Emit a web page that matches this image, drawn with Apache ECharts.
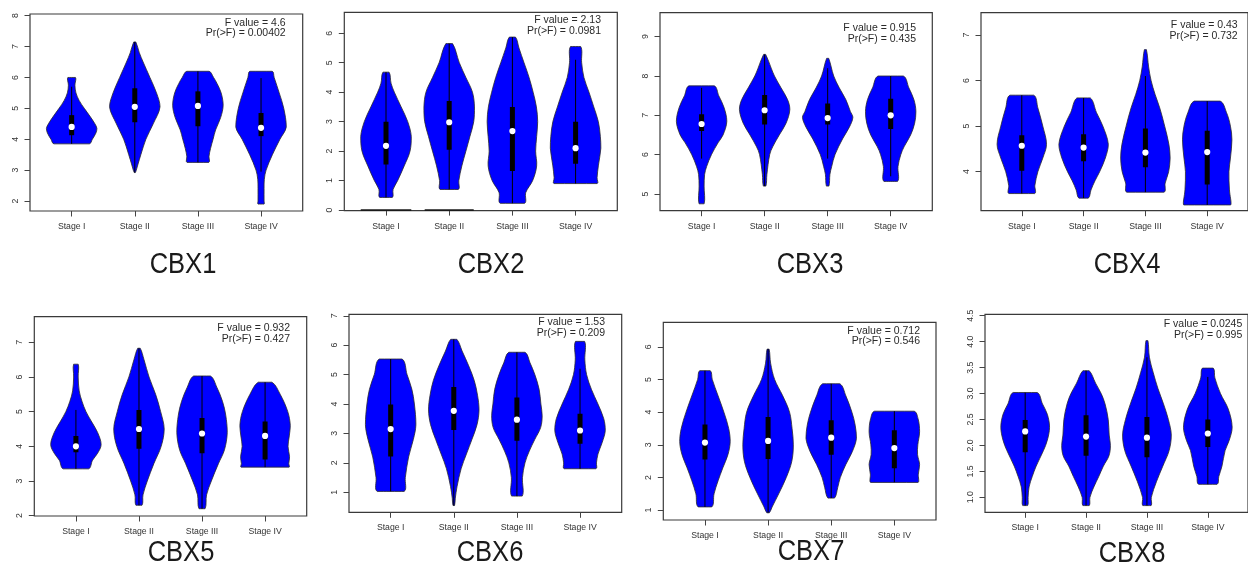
<!DOCTYPE html>
<html>
<head>
<meta charset="utf-8">
<script src="https://cdn.jsdelivr.net/npm/echarts@6/dist/echarts.min.js"></script>
<style>html,body{margin:0;padding:0;background:#fff}#c{width:1248px;height:569px}</style>
</head>
<body>
<div id="c"></div>
<script>
// ---------------- DATA ----------------
const stages = ['Stage I', 'Stage II', 'Stage III', 'Stage IV'];
const genes = ['CBX1', 'CBX2', 'CBX3', 'CBX4', 'CBX5', 'CBX6', 'CBX7', 'CBX8'];
const fValues = ['4.6', '2.13', '0.915', '0.43', '0.932', '1.53', '0.712', '0.0245'];
const prValues = ['0.00402', '0.0981', '0.435', '0.732', '0.427', '0.209', '0.546', '0.995'];

const yTicksCBX1 = [2, 3, 4, 5, 6, 7, 8];
const yTicksCBX2 = [0, 1, 2, 3, 4, 5, 6];
const yTicksCBX3 = [5, 6, 7, 8, 9];
const yTicksCBX4 = [4, 5, 6, 7];
const yTicksCBX5 = [2, 3, 4, 5, 6, 7];
const yTicksCBX6 = [1, 2, 3, 4, 5, 6, 7];
const yTicksCBX7 = [1, 2, 3, 4, 5, 6];
const yTicksCBX8 = [1.0, 1.5, 2.0, 2.5, 3.0, 3.5, 4.0, 4.5];

// box stats per stage: [whisker low, q1, median, q3, whisker high]
const boxCBX1 = [[3.85, 4.13, 4.40, 4.78, 5.7], [2.92, 4.55, 5.05, 5.65, 7.15], [3.25, 4.42, 5.08, 5.55, 6.2], [2.95, 4.1, 4.37, 4.85, 5.98]];
const boxCBX2 = [[0.43, 1.55, 2.18, 3.0, 4.68], [0.7, 2.05, 2.98, 3.7, 5.65], [0.23, 1.33, 2.68, 3.5, 5.87], [0.9, 1.57, 2.1, 3.0, 5.1]];
const boxCBX3 = [[5.9, 6.6, 6.78, 7.03, 7.7], [5.2, 6.77, 7.13, 7.52, 8.55], [5.9, 6.77, 6.93, 7.3, 8.2], [5.45, 6.65, 7.0, 7.42, 8.0]];
const boxCBX4 = [[3.52, 4.02, 4.57, 4.8, 5.68], [3.42, 4.23, 4.53, 4.82, 5.62], [3.55, 4.1, 4.42, 4.95, 6.1], [3.27, 3.72, 4.43, 4.9, 5.55]];
const boxCBX5 = [[3.35, 3.83, 4.0, 4.3, 5.05], [2.3, 3.93, 4.5, 5.05, 6.83], [2.2, 3.8, 4.37, 4.82, 6.03], [3.4, 3.62, 4.3, 4.72, 5.85]];
const boxCBX6 = [[1.03, 2.22, 3.15, 3.98, 5.53], [0.55, 3.12, 3.77, 4.58, 6.2], [0.87, 2.75, 3.47, 4.22, 5.76], [1.8, 2.65, 3.1, 3.67, 5.2]];
const boxCBX7 = [[1.1, 2.55, 3.07, 3.62, 5.27], [0.92, 2.57, 3.12, 3.85, 5.93], [1.37, 2.7, 3.22, 3.75, 4.87], [1.85, 2.28, 2.9, 3.45, 4.03]];
const boxCBX8 = [[0.84, 1.87, 2.27, 2.49, 3.02], [0.84, 1.8, 2.17, 2.58, 3.44], [0.84, 1.77, 2.15, 2.55, 3.7], [1.25, 1.97, 2.23, 2.5, 3.32]];

// violin outlines per stage: [value, relative half-width], top to bottom
const violinCBX1 = [
  [[6.0,0.15],[5.75,0.13],[5.5,0.17],[5.25,0.3],[5.0,0.5],[4.75,0.72],[4.5,0.92],[4.35,1.0],[4.2,0.96],[4.0,0.82],[3.85,0.7]],
  [[7.15,0.04],[6.8,0.18],[6.5,0.33],[6.0,0.6],[5.5,0.86],[5.05,1.0],[4.5,0.73],[4.0,0.44],[3.5,0.24],[3.2,0.13],[3.0,0.06],[2.92,0.02]],
  [[6.2,0.44],[6.0,0.62],[5.8,0.76],[5.5,0.92],[5.1,1.0],[4.7,0.9],[4.3,0.7],[4.0,0.6],[3.7,0.5],[3.45,0.44],[3.25,0.43]],
  [[6.2,0.44],[6.0,0.52],[5.5,0.72],[5.0,0.9],[4.4,1.0],[4.0,0.75],[3.5,0.45],[3.0,0.2],[2.7,0.13],[2.4,0.12],[2.0,0.12],[1.9,0.12]]
];
const violinCBX2 = [
  [[4.68,0.12],[4.3,0.2],[4.0,0.33],[3.5,0.6],[3.0,0.86],[2.5,1.0],[2.0,0.95],[1.5,0.72],[1.0,0.46],[0.7,0.28],[0.43,0.25]],
  [[5.65,0.13],[5.0,0.4],[4.5,0.66],[4.0,0.92],[3.5,1.0],[3.0,0.97],[2.5,0.82],[2.0,0.66],[1.5,0.5],[1.0,0.38],[0.7,0.36]],
  [[5.87,0.12],[5.5,0.26],[5.0,0.46],[4.5,0.66],[4.0,0.82],[3.5,0.95],[3.0,1.0],[2.5,0.96],[2.0,0.92],[1.5,0.96],[1.0,0.8],[0.6,0.53],[0.23,0.48]],
  [[5.55,0.2],[5.0,0.24],[4.5,0.33],[4.0,0.53],[3.5,0.72],[3.0,0.9],[2.5,0.98],[2.1,1.0],[1.5,0.9],[1.1,0.85],[0.9,0.85]]
];
const violinCBX3 = [
  [[7.75,0.5],[7.5,0.68],[7.2,0.89],[6.85,1.0],[6.5,0.85],[6.3,0.65],[6.0,0.39],[5.7,0.2],[5.5,0.12],[5.2,0.1],[4.75,0.1]],
  [[8.55,0.04],[8.2,0.26],[8.0,0.39],[7.7,0.65],[7.4,0.91],[7.15,1.0],[6.8,0.85],[6.5,0.58],[6.2,0.32],[6.0,0.2],[5.5,0.09],[5.2,0.05]],
  [[8.45,0.04],[8.0,0.24],[7.7,0.46],[7.4,0.72],[7.1,0.9],[6.95,1.0],[6.7,0.86],[6.4,0.59],[6.0,0.29],[5.7,0.16],[5.5,0.09],[5.2,0.05]],
  [[8.0,0.5],[7.7,0.72],[7.4,0.92],[7.1,1.0],[6.8,0.95],[6.5,0.79],[6.2,0.53],[6.0,0.4],[5.7,0.29],[5.32,0.27]]
];
const violinCBX4 = [
  [[5.68,0.48],[5.4,0.65],[5.0,0.85],[4.6,1.0],[4.3,0.85],[4.0,0.65],[3.7,0.53],[3.52,0.52]],
  [[5.62,0.27],[5.3,0.52],[5.0,0.78],[4.6,1.0],[4.3,0.88],[4.0,0.65],[3.8,0.46],[3.6,0.3],[3.42,0.19]],
  [[6.68,0.04],[6.3,0.13],[6.0,0.23],[5.7,0.39],[5.4,0.58],[5.0,0.78],[4.6,0.95],[4.3,1.0],[4.0,0.94],[3.75,0.8],[3.55,0.75]],
  [[5.55,0.52],[5.3,0.78],[5.0,0.94],[4.7,1.0],[4.3,0.94],[4.0,0.88],[3.6,0.9],[3.27,0.95]]
];
const violinCBX5 = [
  [[6.37,0.09],[6.0,0.09],[5.6,0.13],[5.3,0.24],[5.0,0.4],[4.7,0.63],[4.4,0.86],[4.05,1.0],[3.8,0.86],[3.6,0.66],[3.35,0.5]],
  [[6.83,0.05],[6.5,0.2],[6.0,0.4],[5.5,0.66],[5.0,0.86],[4.5,1.0],[4.0,0.88],[3.5,0.59],[3.0,0.33],[2.6,0.16],[2.3,0.12]],
  [[6.03,0.33],[5.7,0.59],[5.3,0.81],[4.9,0.94],[4.4,1.0],[3.9,0.89],[3.5,0.65],[3.0,0.37],[2.6,0.18],[2.2,0.12]],
  [[5.85,0.27],[5.5,0.6],[5.0,0.9],[4.6,1.0],[4.3,0.96],[4.0,0.91],[3.7,0.97],[3.5,0.94],[3.4,0.95]]
];
const violinCBX6 = [
  [[5.53,0.45],[5.0,0.65],[4.5,0.84],[4.0,0.94],[3.3,1.0],[2.8,0.9],[2.2,0.71],[1.5,0.58],[1.03,0.53]],
  [[6.2,0.12],[5.8,0.33],[5.3,0.59],[4.8,0.81],[4.3,0.94],[3.8,1.0],[3.3,0.92],[2.8,0.72],[2.3,0.5],[1.8,0.29],[1.2,0.13],[0.8,0.06],[0.55,0.03]],
  [[5.76,0.32],[5.4,0.52],[5.0,0.71],[4.5,0.88],[4.0,0.95],[3.6,1.0],[3.2,0.94],[2.8,0.71],[2.4,0.49],[2.0,0.32],[1.5,0.22],[0.87,0.21]],
  [[6.13,0.18],[5.5,0.19],[5.0,0.26],[4.5,0.45],[4.0,0.71],[3.5,0.94],[3.1,1.0],[2.7,0.88],[2.3,0.71],[2.0,0.65],[1.8,0.63]]
];
const violinCBX7 = [
  [[5.27,0.21],[5.0,0.29],[4.5,0.52],[4.0,0.75],[3.5,0.94],[3.1,1.0],[2.7,0.91],[2.3,0.71],[1.9,0.52],[1.5,0.36],[1.1,0.27]],
  [[5.93,0.04],[5.5,0.1],[5.0,0.26],[4.5,0.58],[4.0,0.85],[3.5,0.95],[3.0,1.0],[2.5,0.94],[2.0,0.72],[1.5,0.42],[1.1,0.16],[0.92,0.05]],
  [[4.87,0.34],[4.5,0.58],[4.0,0.82],[3.6,0.95],[3.2,1.0],[2.8,0.84],[2.4,0.58],[2.0,0.36],[1.7,0.26],[1.37,0.13]],
  [[4.03,0.78],[3.8,0.94],[3.4,1.0],[3.0,0.93],[2.7,0.92],[2.4,1.0],[2.1,0.95],[1.85,0.94]]
];
const violinCBX8 = [
  [[3.02,0.49],[2.8,0.71],[2.6,0.91],[2.35,1.0],[2.1,0.91],[1.9,0.75],[1.6,0.45],[1.4,0.29],[1.2,0.16],[1.0,0.12],[0.84,0.1]],
  [[3.44,0.13],[3.2,0.39],[3.0,0.62],[2.8,0.78],[2.5,0.91],[2.2,0.95],[2.0,1.0],[1.8,0.94],[1.6,0.71],[1.4,0.52],[1.2,0.32],[1.0,0.16],[0.84,0.13]],
  [[4.02,0.04],[3.7,0.1],[3.4,0.26],[3.1,0.45],[2.8,0.68],[2.5,0.88],[2.2,1.0],[1.9,0.91],[1.6,0.65],[1.3,0.39],[1.0,0.18],[0.84,0.17]],
  [[3.49,0.22],[3.3,0.29],[3.0,0.52],[2.7,0.84],[2.35,1.0],[2.1,0.88],[1.9,0.71],[1.6,0.58],[1.4,0.45],[1.25,0.38]]
];
// CBX2: flat marks at zero value: [stage position, value, relative half-width]
const zeroMarksCBX2 = [[1, 0, 1.0], [2, 0, 0.97]];

// ---------------- LAYOUT ----------------
const yTicks = [yTicksCBX1, yTicksCBX2, yTicksCBX3, yTicksCBX4, yTicksCBX5, yTicksCBX6, yTicksCBX7, yTicksCBX8];
const boxes = [boxCBX1, boxCBX2, boxCBX3, boxCBX4, boxCBX5, boxCBX6, boxCBX7, boxCBX8];
const violins = [violinCBX1, violinCBX2, violinCBX3, violinCBX4, violinCBX5, violinCBX6, violinCBX7, violinCBX8];

const panelBoxes = [[30,14,272.7,197],[344.3,12.3,273,198.4],[660,12.7,272.3,198],[981,12.7,272,198],
                    [34.3,316.7,272.4,199.3],[349,314.3,272.7,198],[663.3,322.3,272.7,197.7],[985,314.3,272,198]];
const yRanges = [[1.676,8.055],[-0.02,6.71],[4.575,9.61],[3.144,7.49],[1.99,7.74],[0.32,7.05],[0.70,6.75],[0.711,4.527]];
const statPos = [[285.7,22.7],[601,20],[916,28.3],[1237.7,25],[290,328.3],[605,322.3],[920,330.7],[1242.3,324]];
const titlePos = [[183,265],[491,265],[810,265],[1127,265],[181,553],[490,553],[811,552],[1132,554]];
const HALF = 0.4;
const FONT = '"Liberation Sans", Arial, Helvetica, sans-serif';

const chart = echarts.init(document.getElementById('c'), null, {renderer: 'canvas'});

const grids = [], xAxes = [], yAxes = [], series = [], graphics = [];
genes.forEach((g, gi) => {
  const b = panelBoxes[gi];
  grids.push({left: b[0], top: b[1], width: b[2], height: b[3], show: true, borderColor: '#3a3a3a', borderWidth: 1.2, backgroundColor: 'transparent', containLabel: false});
  xAxes.push({
    type: 'value', gridIndex: gi, min: 0.34, max: 4.66,
    axisLine: {show: false}, splitLine: {show: false},
    axisTick: {show: true, length: 5.5, customValues: [1, 2, 3, 4], lineStyle: {color: '#444', width: 1}},
    axisLabel: {show: true, customValues: [1, 2, 3, 4], margin: 11, fontSize: 8.7, color: '#333', fontFamily: FONT,
      formatter: v => stages[Math.round(v) - 1]}
  });
  yAxes.push({
    type: 'value', gridIndex: gi, min: yRanges[gi][0], max: yRanges[gi][1],
    axisLine: {show: false}, splitLine: {show: false},
    axisTick: {show: true, length: 5.5, customValues: yTicks[gi], lineStyle: {color: '#444', width: 1}},
    axisLabel: {show: true, customValues: yTicks[gi], rotate: 90, margin: 10, fontSize: 8.7, color: '#333', fontFamily: FONT,
      formatter: v => gi === 7 ? v.toFixed(1) : String(v)}
  });
  const prof = violins[gi];
  series.push({
    type: 'custom', xAxisIndex: gi, yAxisIndex: gi, clip: true, silent: true,
    data: boxes[gi].map((s, i) => [i + 1, s[0], s[1], s[2], s[3], s[4]]),
    renderItem: function (params, api) {
      const i = params.dataIndex;
      const x = api.value(0);
      const p = prof[i];
      const right = p.map(d => api.coord([x + d[1] * HALF, d[0]]));
      const left = p.slice().reverse().map(d => api.coord([x - d[1] * HALF, d[0]]));
      const pts = right.concat(left);
      let minX = Infinity, minY = Infinity, maxX = -Infinity, maxY = -Infinity;
      pts.forEach(q => { minX = Math.min(minX, q[0]); maxX = Math.max(maxX, q[0]); minY = Math.min(minY, q[1]); maxY = Math.max(maxY, q[1]); });
      const lo = api.coord([x, api.value(1)]);
      const q1 = api.coord([x, api.value(2)]);
      const med = api.coord([x, api.value(3)]);
      const q3 = api.coord([x, api.value(4)]);
      const hi = api.coord([x, api.value(5)]);
      return {type: 'group', children: [
        {type: 'polygon', shape: {points: pts, smooth: 0.35, smoothConstraint: [[minX, minY], [maxX, maxY]]},
          style: {fill: '#0000ff', stroke: '#2b2b2b', lineWidth: 0.8}},
        {type: 'line', shape: {x1: lo[0], y1: lo[1], x2: hi[0], y2: hi[1]}, style: {stroke: '#000', lineWidth: 1}},
        {type: 'rect', shape: {x: q3[0] - 2.5, y: q3[1], width: 5, height: q1[1] - q3[1]}, style: {fill: '#000'}},
        {type: 'circle', shape: {cx: med[0], cy: med[1], r: 3.1}, style: {fill: '#fff'}}
      ]};
    }
  });
  graphics.push({type: 'text', x: statPos[gi][0], y: statPos[gi][1], silent: true,
    style: {text: 'F value = ' + fValues[gi], font: '10.5px ' + FONT, fill: '#2a2a2a', textAlign: 'right', textVerticalAlign: 'middle'}});
  graphics.push({type: 'text', x: statPos[gi][0], y: statPos[gi][1] + 10.7, silent: true,
    style: {text: 'Pr(>F) = ' + prValues[gi], font: '10.5px ' + FONT, fill: '#2a2a2a', textAlign: 'right', textVerticalAlign: 'middle'}});
  graphics.push({type: 'text', x: titlePos[gi][0], y: titlePos[gi][1], scaleX: 0.88, silent: true,
    style: {text: g, font: '29px ' + FONT, fill: '#1a1a1a', textAlign: 'center', textVerticalAlign: 'middle'}});
});

// zero-value marks in CBX2
series.push({
  type: 'custom', xAxisIndex: 1, yAxisIndex: 1, clip: false, silent: true,
  data: zeroMarksCBX2,
  renderItem: function (params, api) {
    const x = api.value(0), y = api.value(1), w = api.value(2) * HALF;
    const a = api.coord([x - w, y]), c = api.coord([x + w, y]);
    return {type: 'line', shape: {x1: a[0], y1: a[1], x2: c[0], y2: c[1]}, style: {stroke: '#1a1a1a', lineWidth: 1.6}};
  }
});

chart.setOption({
  backgroundColor: '#ffffff',
  animation: false,
  grid: grids, xAxis: xAxes, yAxis: yAxes, series: series,
  graphic: graphics
});
</script>
</body>
</html>
